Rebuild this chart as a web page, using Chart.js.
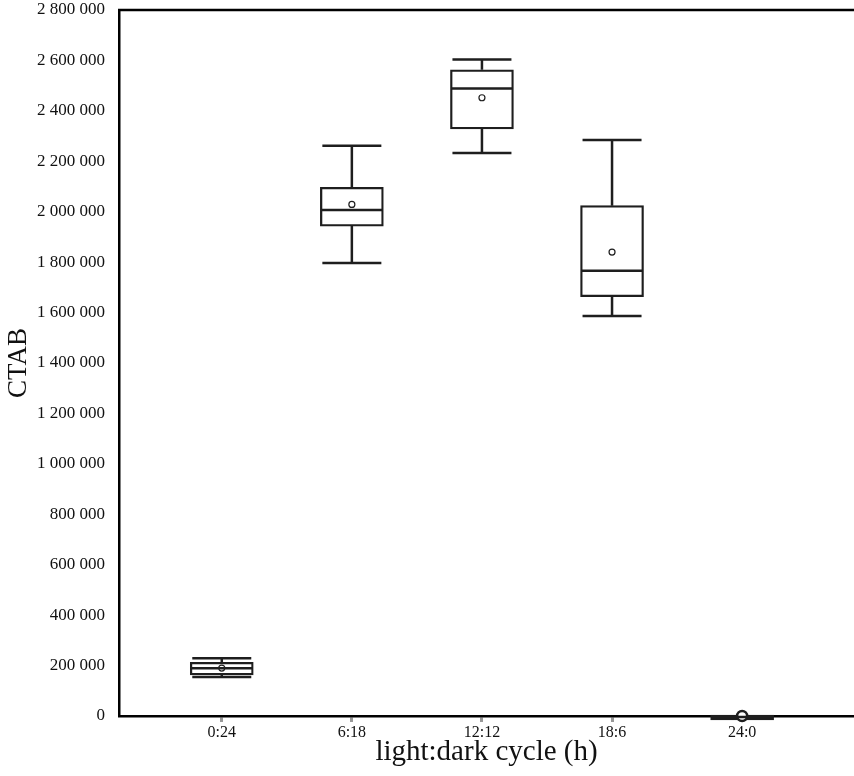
<!DOCTYPE html>
<html>
<head>
<meta charset="utf-8">
<script src="https://cdn.jsdelivr.net/npm/chart.js@4.4.0/dist/chart.umd.min.js"></script>
<style>
  html, body { margin: 0; padding: 0; background: #fff; }
</style>
</head>
<body>
<canvas id="box-chart" width="854" height="776"></canvas>
<script>
// Data
const cycles = ['0:24', '6:18', '12:12', '18:6', '24:0'];
const whiskerLow = [155000, 1797000, 2233000, 1586000, -16000];
const quartile1 = [163000, 1943000, 2328000, 1663000, -16000];
const medians = [189000, 2007000, 2489000, 1766000, -4000];
const quartile3 = [213000, 2097000, 2563000, 2024000, 4000];
const whiskerHigh = [229000, 2262000, 2604000, 2284000, 4000];
const means = [190000, 2029000, 2452000, 1840000, 0];
const yTicks = [0, 200000, 400000, 600000, 800000, 1000000, 1200000, 1400000,
    1600000, 1800000, 2000000, 2200000, 2400000, 2600000, 2800000];

const serif = "'Liberation Serif', 'Times New Roman', serif";
const ink = '#1e1e1e';

// whiskers, caps, medians and the top frame line
const boxPlugin = {
    id: 'boxParts',
    afterDatasetsDraw(chart) {
        const ctx = chart.ctx;
        const xs = chart.scales.x;
        const ys = chart.scales.y;
        const area = chart.chartArea;
        const boxes = chart.getDatasetMeta(0).data;
        ctx.save();
        ctx.strokeStyle = ink;
        ctx.lineCap = 'butt';
        cycles.forEach(function(c, i) {
            const cx = xs.getPixelForValue(i + 1);
            const half = boxes[i].width / 2;
            const capHalf = half - 2;
            const yLo = ys.getPixelForValue(whiskerLow[i]);
            const yQ1 = ys.getPixelForValue(quartile1[i]);
            const yMed = ys.getPixelForValue(medians[i]);
            const yQ3 = ys.getPixelForValue(quartile3[i]);
            const yHi = ys.getPixelForValue(whiskerHigh[i]);
            ctx.lineWidth = 2.5;
            ctx.beginPath();
            if (whiskerHigh[i] > quartile3[i]) {
                ctx.moveTo(cx, yQ3); ctx.lineTo(cx, yHi);
                ctx.moveTo(cx - capHalf, yHi); ctx.lineTo(cx + capHalf, yHi);
            }
            if (whiskerLow[i] < quartile1[i]) {
                ctx.moveTo(cx, yQ1); ctx.lineTo(cx, yLo);
                ctx.moveTo(cx - capHalf, yLo); ctx.lineTo(cx + capHalf, yLo);
            }
            ctx.moveTo(cx - half + 1, yMed); ctx.lineTo(cx + half - 1, yMed);
            ctx.stroke();
        });
        // top frame
        ctx.lineWidth = 2.5;
        ctx.strokeStyle = '#000';
        ctx.beginPath();
        ctx.moveTo(area.left - 1, area.top);
        ctx.lineTo(chart.width, area.top);
        ctx.stroke();
        ctx.restore();
    }
};

const ctx = document.getElementById('box-chart').getContext('2d');
const boxChart = new Chart(ctx, {
    type: 'bar',
    data: {
        datasets: [{
            type: 'bar',
            label: 'box',
            data: cycles.map((c, i) => ({ x: i + 1, y: [quartile1[i], quartile3[i]] })),
            backgroundColor: 'rgba(255,255,255,0)',
            borderColor: ink,
            borderWidth: [1.6, 1.6, 1.6, 1.6, 2.2],
            borderSkipped: false,
            barThickness: 63,
            clip: false,
            order: 2
        }, {
            type: 'scatter',
            label: 'mean',
            data: cycles.map((c, i) => ({ x: i + 1, y: means[i] })),
            pointStyle: 'circle',
            pointRadius: [3, 3, 3, 3, 5],
            pointBorderWidth: [1.2, 1.2, 1.2, 1.2, 2.5],
            pointBackgroundColor: '#fff',
            pointBorderColor: ink,
            clip: false,
            order: 1
        }]
    },
    options: {
        responsive: false,
        animation: false,
        layout: { autoPadding: false, padding: { top: 10, right: 0, left: 0, bottom: 0 } },
        plugins: {
            legend: { display: false },
            tooltip: { enabled: false }
        },
        scales: {
            x: {
                type: 'linear',
                offset: false,
                min: 0.21,
                max: 5.86,
                afterFit: function(scale) {
                    scale.height = 60;
                    scale.paddingLeft = 0;
                    scale.paddingRight = 0;
                },
                afterBuildTicks: function(scale) {
                    scale.ticks = cycles.map((c, i) => ({ value: i + 1 }));
                },
                ticks: {
                    autoSkip: false,
                    maxRotation: 0,
                    padding: 1,
                    color: '#111',
                    font: { family: serif, size: 16 },
                    callback: function(v) { return cycles[v - 1]; }
                },
                grid: {
                    display: true,
                    offset: false,
                    drawOnChartArea: false,
                    drawTicks: true,
                    tickLength: 6,
                    tickWidth: 3,
                    tickColor: '#999'
                },
                border: { display: true, color: '#000', width: 2.5 },
                title: {
                    display: true,
                    text: 'light:dark cycle (h)',
                    color: '#111',
                    font: { family: serif, size: 29 },
                    padding: { top: 0, bottom: 6 }
                }
            },
            y: {
                min: 0,
                max: 2800000,
                afterFit: function(scale) {
                    scale.width = 119;
                    scale.paddingTop = 0;
                    scale.paddingBottom = 0;
                },
                afterBuildTicks: function(scale) {
                    scale.ticks = yTicks.map(v => ({ value: v }));
                },
                ticks: {
                    padding: 6,
                    color: '#111',
                    font: { family: serif, size: 17 },
                    callback: function(v) {
                        return String(v).replace(/\B(?=(\d{3})+(?!\d))/g, ' ');
                    }
                },
                grid: { display: false },
                border: { display: true, color: '#000', width: 2.5 },
                title: {
                    display: true,
                    text: 'CTAB',
                    color: '#111',
                    font: { family: serif, size: 27 },
                    padding: { top: 3, bottom: 0 }
                }
            }
        }
    },
    plugins: [boxPlugin]
});
</script>
</body>
</html>
